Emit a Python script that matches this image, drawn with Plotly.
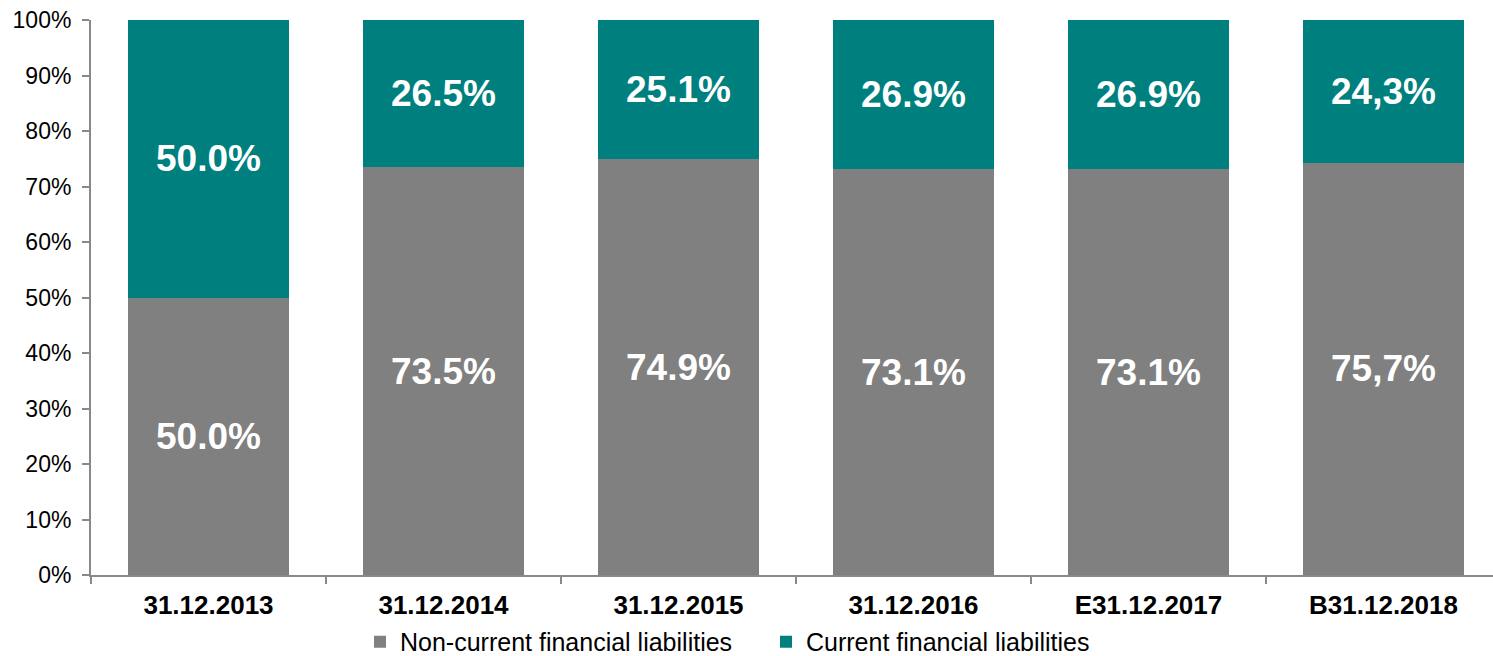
import plotly.graph_objects as go

categories = ["31.12.2013", "31.12.2014", "31.12.2015", "31.12.2016", "E31.12.2017", "B31.12.2018"]
non_current = [50.0, 73.5, 74.9, 73.1, 73.1, 74.3]
current = [50.0, 26.5, 25.1, 26.9, 26.9, 25.7]
non_current_labels = ["50.0%", "73.5%", "74.9%", "73.1%", "73.1%", "75,7%"]
current_labels = ["50.0%", "26.5%", "25.1%", "26.9%", "26.9%", "24,3%"]
y_ticks = [0, 10, 20, 30, 40, 50, 60, 70, 80, 90, 100]

GRAY = "#808080"
TEAL = "#007F7F"
FONT = "Liberation Sans, Arial, sans-serif"

fig = go.Figure()
fig.add_trace(go.Bar(
    x=categories, y=non_current, name="Non-current financial liabilities",
    marker=dict(color=GRAY, line=dict(width=0)),
    text=non_current_labels, textposition="inside", insidetextanchor="middle",
    textangle=0, textfont=dict(color="white", size=37, family=FONT, weight="bold"),
    hoverinfo="skip",
))
fig.add_trace(go.Bar(
    x=categories, y=current, name="Current financial liabilities",
    marker=dict(color=TEAL, line=dict(width=0)),
    text=current_labels, textposition="inside", insidetextanchor="middle",
    textangle=0, textfont=dict(color="white", size=37, family=FONT, weight="bold"),
    hoverinfo="skip",
))

fig.update_layout(
    barmode="stack",
    bargap=0.315,
    width=1493, height=656,
    margin=dict(l=91, r=0, t=20, b=81, autoexpand=False),
    paper_bgcolor="white", plot_bgcolor="white",
    font=dict(family=FONT, size=20, color="black"),
    uniformtext=dict(minsize=37, mode="show"),
    showlegend=True,
    legend=dict(
        orientation="h", x=(360 - 91) / 1402, xanchor="left", y=-0.1207, yanchor="middle",
        font=dict(size=25, family=FONT, color="black"),
        itemwidth=30, traceorder="normal",
        entrywidth=361, entrywidthmode="pixels",
    ),
    xaxis=dict(
        type="category", range=[-0.5, 5.466], automargin=False,
        showline=True, linecolor="#898989", linewidth=2,
        ticks="outside", tickson="boundaries", ticklen=7, tickcolor="#898989", tickwidth=2,
        tickfont=dict(size=26, family=FONT, color="black", weight="bold"),
        ticklabelstandoff=6,
        showgrid=False, zeroline=False,
    ),
    yaxis=dict(
        range=[0, 100], tickmode="array", tickvals=y_ticks, automargin=False,
        ticktext=[f"{v}%" for v in y_ticks],
        showline=True, linecolor="#898989", linewidth=2,
        ticks="outside", ticklen=7, tickcolor="#898989", tickwidth=2,
        tickfont=dict(size=23, family=FONT, color="black"),
        ticklabelstandoff=6,
        showgrid=False, zeroline=False,
    ),
)

fig.write_html(
    "out.html",
    config={"displayModeBar": False},
    post_script="document.body.style.margin='0';document.body.style.overflow='hidden';",
)
